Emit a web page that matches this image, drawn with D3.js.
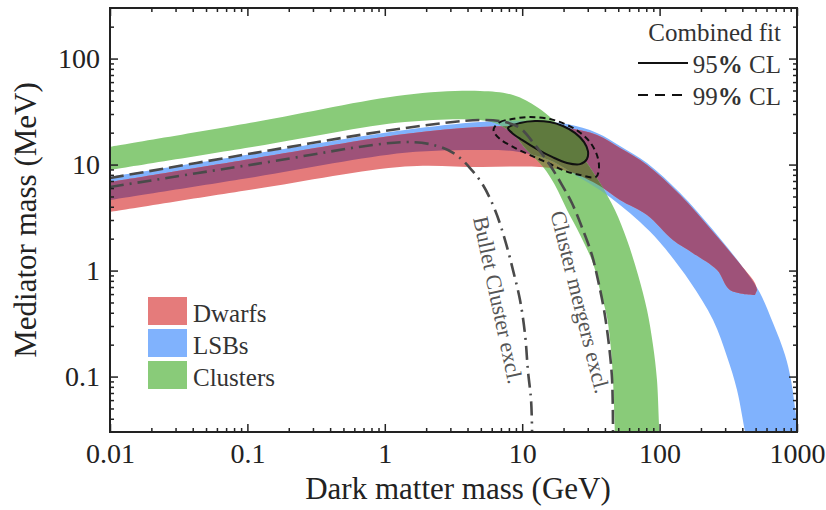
<!DOCTYPE html>
<html><head><meta charset="utf-8">
<script src="https://cdn.jsdelivr.net/npm/d3@7"></script>
<style>
body{margin:0;background:#fff}
svg{display:block}
text{font-family:"Liberation Serif","Times New Roman",serif}
</style>
</head><body>
<svg id="c" width="826" height="510"></svg>
<script>
// ---------------- data (dark matter mass GeV, mediator mass MeV) ----------------
const dwarfsUpper = [[0.01,6.85],[0.114,11.5],[1.40,19.4],[4.93,22.6],[11.4,23.1],[21.2,22.1],[35.0,19.0],[51.5,14.3],[81.0,9.91],[141,5.16],[245,2.31],[419,1.01],[494,0.764],[512,0.656]];
const dwarfsLower = [[0.01,3.57],[0.114,5.88],[1.40,9.6],[4.93,9.48],[13.5,9.48],[22.3,8.51],[36.8,6.28],[51.5,4.63],[81.0,3.34],[125,1.94],[175,1.46],[262,1.01],[325,0.656],[494,0.588]];

const lsbUpper = [[0.01,7.64],[0.114,12.7],[1.40,21.2],[4.93,25.2],[11.4,25.8],[21.2,24.1],[35.0,19.9],[51.5,15.0],[81.0,10.35],[141,5.39],[245,2.41],[433,0.949],[538,0.614],[669,0.320],[818,0.160],[904,0.093],[984,0.0434],[1051,0.025]];
const lsbLower = [[0.01,4.63],[0.114,7.64],[1.40,12.9],[4.93,13.7],[8.57,13.4],[15.9,11.0],[26.4,7.47],[36.8,5.75],[51.5,4.16],[72.0,2.87],[100,1.86],[166,0.79],[245,0.342],[310,0.153],[366,0.0746],[419,0.03],[433,0.025]];

const clustersUpper = [[0.01,14.7],[0.114,25.2],[1.40,45.3],[4.93,49.4],[8.57,45.3],[12.8,34.9],[16.8,26.3],[21.2,18.2],[28.6,11.0],[36.8,6.70],[47.3,3.73],[57.9,1.94],[69.7,0.908],[81.0,0.425],[89.5,0.199],[95.7,0.093],[100,0.03],[102,0.025]];
const clustersLower = [[0.01,8.89],[0.114,14.8],[1.40,25.2],[4.93,26.3],[6.89,23.6],[8.87,18.6],[10.8,13.7],[14.2,9.48],[17.3,6.41],[21.2,3.73],[26.4,2.17],[32.7,1.18],[36.8,0.656],[41.4,0.365],[44.3,0.178],[45.8,0.093],[47.3,0.03],[47.5,0.025]];

const bulletExcl = [[0.01,6.14],[0.114,10.1],[1.40,16.3],[2.40,15.0],[3.24,12.6],[4.17,9.28],[5.18,6.41],[6.34,3.73],[7.50,1.94],[8.57,1.01],[9.64,0.527],[10.5,0.247],[11.0,0.115],[11.6,0.0601],[11.8,0.03]];
const mergersExcl = [[0.01,7.47],[0.114,12.9],[1.40,22.1],[4.93,26.3],[7.50,25.2],[9.64,22.1],[12.4,15.3],[15.9,9.91],[19.5,6.41],[23.0,4.34],[27.7,2.41],[32.2,1.40],[35.6,0.815],[39.4,0.425],[42.8,0.199],[45.1,0.093],[45.8,0.03]];

const fit95 = [[7.88,22.1],[9.64,24.7],[12.4,25.8],[15.9,25.2],[19.8,23.1],[24.2,19.9],[28.2,16.3],[30.1,13.4],[29.6,11.3],[26.4,10.1],[21.2,10.35],[16.5,11.8],[12.8,14.0],[9.97,17.1],[8.43,19.9]];
const fit99 = [[6.23,22.1],[6.89,25.2],[8.43,26.9],[11.4,28.1],[15.9,26.9],[20.5,24.1],[25.5,20.7],[31.1,16.3],[35.0,12.3],[36.2,9.28],[34.4,7.64],[26.4,7.97],[20.5,8.70],[15.4,10.35],[11.4,12.3],[8.57,14.7],[6.89,17.4],[6.23,20.3]];

const xMajor = [0.01,0.1,1,10,100,1000];
const xTickLabels = ["0.01","0.1","1","10","100","1000"];
const yMajor = [0.1,1,10,100];
const yTickLabels = ["0.1","1","10","100"];
const bandNames = ["Dwarfs","LSBs","Clusters"];
const fitNames = ["Combined fit","95% CL","99% CL"];
const exclNames = ["Bullet Cluster excl.","Cluster mergers excl."];

// ---------------- setup ----------------
const C = {red:"#e57b7b", blue:"#80b2fd", green:"#89cb79", purple:"#9e5279",
           greenRed:"#8f8a50", greenBlue:"#74b99c", greenPurple:"#6c7442", ell:"#5f7a3e"};
const svg = d3.select("#c");
const m = {l:110, r:797, t:8, b:432};
const x = d3.scaleLog().domain([0.01,1000]).range([m.l,m.r]);
const y = d3.scaleLog().domain([0.03,300]).range([m.b,m.t]);

const defs = svg.append("defs");
defs.append("clipPath").attr("id","plot").append("rect")
  .attr("x",m.l).attr("y",m.t).attr("width",m.r-m.l).attr("height",m.b-m.t);

const edge = d3.line().x(d=>x(d[0])).y(d=>y(d[1])).curve(d3.curveCatmullRom.alpha(0.5));
const closed = d3.line().x(d=>x(d[0])).y(d=>y(d[1])).curve(d3.curveCatmullRomClosed.alpha(0.5));
function band(u,l){ return edge(u) + edge(l.slice().reverse()).replace(/^M/,"L") + "Z"; }
const pRed = band(dwarfsUpper,dwarfsLower);
const pBlue = band(lsbUpper,lsbLower);
const pGreen = band(clustersUpper,clustersLower);
defs.append("clipPath").attr("id","cRed").append("path").attr("d",pRed);
defs.append("clipPath").attr("id","cBlue").append("path").attr("d",pBlue);

const g = svg.append("g").attr("clip-path","url(#plot)");
g.append("path").attr("d",pBlue).attr("fill",C.blue);
g.append("path").attr("d",pRed).attr("fill",C.red);
g.append("path").attr("d",pRed).attr("fill",C.purple).attr("clip-path","url(#cBlue)");
g.append("path").attr("d",pGreen).attr("fill",C.green);
g.append("path").attr("d",pGreen).attr("fill",C.greenRed).attr("clip-path","url(#cRed)");
g.append("path").attr("d",pGreen).attr("fill",C.greenBlue).attr("clip-path","url(#cBlue)");
g.append("g").attr("clip-path","url(#cBlue)")
  .append("path").attr("d",pGreen).attr("fill",C.greenPurple).attr("clip-path","url(#cRed)");

// combined fit contours
g.append("path").attr("d",closed(fit95)).attr("fill",C.ell).attr("stroke","#111").attr("stroke-width",2);
g.append("path").attr("d",closed(fit99)).attr("fill","none").attr("stroke","#111")
  .attr("stroke-width",2).attr("stroke-dasharray","6,4");

// exclusion lines
g.append("path").attr("d",edge(bulletExcl)).attr("fill","none").attr("stroke","#4a4a4a")
  .attr("stroke-width",2.6).attr("stroke-dasharray","14,6,2,6");
g.append("path").attr("d",edge(mergersExcl)).attr("fill","none").attr("stroke","#4a4a4a")
  .attr("stroke-width",2.6).attr("stroke-dasharray","14,6");

// exclusion labels
svg.append("text").attr("transform",`translate(${x(6.67)},${y(0.527)}) rotate(78)`)
  .attr("text-anchor","middle").attr("dominant-baseline","central")
  .attr("font-size",22).attr("fill","#555").text(exclNames[0]);
svg.append("text").attr("transform",`translate(${x(26.4)},${y(0.505)}) rotate(76)`)
  .attr("text-anchor","middle").attr("dominant-baseline","central")
  .attr("font-size",22).attr("fill","#555").text(exclNames[1]);

// ---------------- axes ----------------
function minors(lo,hi){const a=[];for(let d=1e-3;d<1e4;d*=10){for(let k=2;k<=9;k++){const v=+(k*d).toPrecision(3);if(v>lo&&v<hi)a.push(v);}}return a;}
const xMinor = minors(0.01,1000), yMinor = minors(0.03,300);
function styleAx(s,fs){
  s.select(".domain").remove();
  s.selectAll("line").attr("stroke","#222").attr("stroke-width",1.5);
  s.selectAll("text").attr("font-size",fs).attr("fill","#222").attr("font-family","Liberation Serif, serif");
}
svg.append("g").attr("transform",`translate(0,${m.b})`)
  .call(d3.axisBottom(x).tickValues(xMajor).tickFormat((d,i)=>xTickLabels[i]).tickSizeInner(-8).tickSizeOuter(0).tickPadding(11))
  .call(s=>styleAx(s,28));
svg.append("g").attr("transform",`translate(0,${m.b})`)
  .call(d3.axisBottom(x).tickValues(xMinor).tickFormat("").tickSizeInner(-4).tickSizeOuter(0)).call(s=>styleAx(s,1));
svg.append("g").attr("transform",`translate(0,${m.t})`)
  .call(d3.axisTop(x).tickValues(xMajor).tickFormat("").tickSizeInner(-8).tickSizeOuter(0)).call(s=>styleAx(s,1));
svg.append("g").attr("transform",`translate(0,${m.t})`)
  .call(d3.axisTop(x).tickValues(xMinor).tickFormat("").tickSizeInner(-4).tickSizeOuter(0)).call(s=>styleAx(s,1));
svg.append("g").attr("transform",`translate(${m.l},0)`)
  .call(d3.axisLeft(y).tickValues(yMajor).tickFormat((d,i)=>yTickLabels[i]).tickSizeInner(-8).tickSizeOuter(0).tickPadding(10))
  .call(s=>styleAx(s,28));
svg.append("g").attr("transform",`translate(${m.l},0)`)
  .call(d3.axisLeft(y).tickValues(yMinor).tickFormat("").tickSizeInner(-4).tickSizeOuter(0)).call(s=>styleAx(s,1));
svg.append("g").attr("transform",`translate(${m.r},0)`)
  .call(d3.axisRight(y).tickValues(yMajor).tickFormat("").tickSizeInner(-8).tickSizeOuter(0)).call(s=>styleAx(s,1));
svg.append("g").attr("transform",`translate(${m.r},0)`)
  .call(d3.axisRight(y).tickValues(yMinor).tickFormat("").tickSizeInner(-4).tickSizeOuter(0)).call(s=>styleAx(s,1));

svg.append("rect").attr("x",m.l).attr("y",m.t).attr("width",m.r-m.l).attr("height",m.b-m.t)
  .attr("fill","none").attr("stroke","#222").attr("stroke-width",2);

svg.append("text").attr("x",458).attr("y",499).attr("text-anchor","middle")
  .attr("font-size",31).attr("fill","#222").text("Dark matter mass (GeV)");
svg.append("text").attr("transform","translate(36,220) rotate(-90)").attr("text-anchor","middle")
  .attr("font-size",31).attr("fill","#222").text("Mediator mass (MeV)");

// ---------------- legends ----------------
const bandColors = [C.red, C.blue, C.green];
const lg = svg.append("g");
bandNames.forEach((n,i)=>{
  lg.append("rect").attr("x",148).attr("y",297+i*32).attr("width",39).attr("height",28).attr("fill",bandColors[i]);
  lg.append("text").attr("x",193).attr("y",322+i*32).attr("font-size",25).attr("fill","#333").text(n);
});
const tr = svg.append("g");
tr.append("text").attr("x",781).attr("y",41).attr("text-anchor","end").attr("font-size",25).attr("fill","#333").text(fitNames[0]);
tr.append("line").attr("x1",638).attr("x2",688).attr("y1",63).attr("y2",63).attr("stroke","#111").attr("stroke-width",2);
tr.append("line").attr("x1",638).attr("x2",688).attr("y1",95).attr("y2",95).attr("stroke","#111").attr("stroke-width",2).attr("stroke-dasharray","10,7");
[fitNames[1],fitNames[2]].forEach((n,i)=>{
  const t = tr.append("text").attr("x",781).attr("y",73+i*32).attr("text-anchor","end").attr("font-size",25).attr("fill","#333");
  const parts = n.split("%");
  t.append("tspan").text(parts[0]);
  t.append("tspan").attr("font-weight","bold").text("%");
  t.append("tspan").text(parts[1]);
});
</script>
</body></html>
